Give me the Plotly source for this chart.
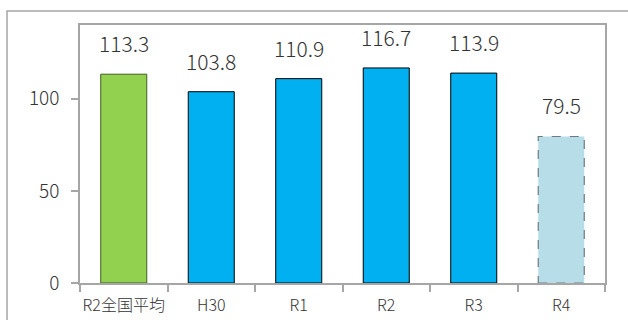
import plotly.graph_objects as go

categories = ["R2全国平均", "H30", "R1", "R2", "R3", "R4"]
values = [113.3, 103.8, 110.9, 116.7, 113.9, 79.5]
fill_colors = ["#92D050", "#00B0F0", "#00B0F0", "#00B0F0", "#00B0F0", "#B7DEE8"]
edge_colors = ["#3F5F1F", "#000000", "#000000", "#000000", "#000000", "rgba(0,0,0,0)"]
y_ticks = [0, 50, 100]

FONT = "Noto Sans CJK JP"
GRID = "#A6A6A6"
BAR_WIDTH = 0.526

fig = go.Figure()
fig.add_trace(go.Bar(
    x=categories,
    y=values,
    width=BAR_WIDTH,
    marker=dict(color=fill_colors, line=dict(color=edge_colors, width=1)),
    hoverinfo="x+y",
))

# value labels above each bar
for cat, v in zip(categories, values):
    fig.add_annotation(
        x=cat, y=v, text=f"{v:.1f}", showarrow=False,
        yanchor="bottom", yshift=14,
        font=dict(family=FONT, size=21, color="#333333", weight=300),
    )

# dashed outline for the provisional R4 bar
i4 = categories.index("R4")
fig.add_shape(
    type="rect", xref="x", yref="y",
    x0=i4 - BAR_WIDTH / 2, x1=i4 + BAR_WIDTH / 2, y0=0, y1=values[i4],
    line=dict(color="#6E7B80", width=1.2, dash="dash"),
    fillcolor="rgba(0,0,0,0)", layer="above",
)

# outer chart frame
fig.add_shape(
    type="rect", xref="paper", yref="paper",
    x0=-0.139, x1=1.08, y0=-0.2, y1=1.054,
    line=dict(color=GRID, width=1.5),
)

fig.update_layout(
    width=628, height=320,
    margin=dict(l=80, r=23, t=25, b=37, autoexpand=False),
    paper_bgcolor="white", plot_bgcolor="white",
    showlegend=False,
    font=dict(family=FONT, color="#333333"),
)
fig.update_xaxes(
    showline=True, linecolor=GRID, linewidth=1.5, mirror=True,
    ticks="outside", tickson="boundaries", ticklen=7, tickcolor=GRID, tickwidth=1.5,
    tickangle=0, automargin=False,
    ticklabelstandoff=7,
    tickfont=dict(family=FONT, size=16, color="#333333", weight=300),
    showgrid=False,
)
fig.update_yaxes(
    range=[0, 140], tickvals=y_ticks,
    showline=True, linecolor=GRID, linewidth=1.5, mirror=True,
    ticks="outside", ticklen=7, tickcolor=GRID, tickwidth=1.5,
    automargin=False,
    ticklabelstandoff=8,
    tickfont=dict(family=FONT, size=19, color="#333333", weight=300),
    showgrid=False, zeroline=False,
)

fig.write_html("out.html")
